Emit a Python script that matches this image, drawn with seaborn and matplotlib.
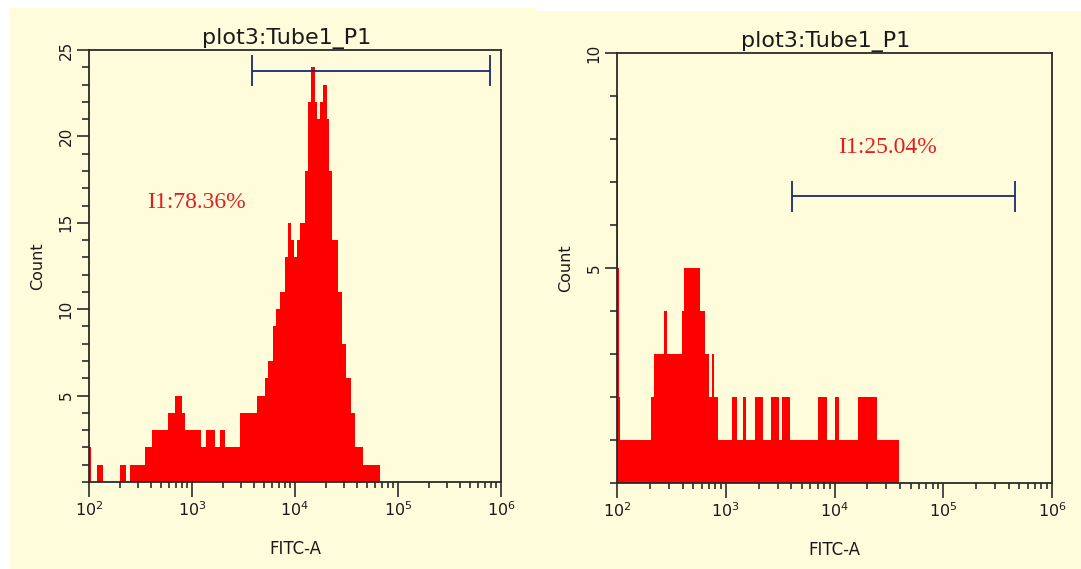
import numpy as np
import pandas as pd
import matplotlib
matplotlib.use("Agg")
import matplotlib.pyplot as plt
import seaborn as sns
from matplotlib.patches import Rectangle
from matplotlib.ticker import FixedLocator, LogLocator, MultipleLocator, NullFormatter, FuncFormatter

# Datos: bordes de bin en log10(FITC-A) y cuentas por bin
edges_left = [2.00, 2.02, 2.08, 2.14, 2.30, 2.36, 2.40, 2.54, 2.61, 2.77, 2.84, 2.90, 2.93,
              3.09, 3.14, 3.22, 3.27, 3.32, 3.47, 3.63, 3.71, 3.74, 3.79, 3.82, 3.85,
              3.90, 3.93, 3.96, 3.99, 4.02, 4.05, 4.10, 4.13, 4.16, 4.19, 4.21, 4.24, 4.27,
              4.31, 4.33, 4.36, 4.42, 4.46, 4.50, 4.54, 4.58, 4.66, 4.83]
counts_left = [2, 0, 1, 0, 1, 0, 1, 2, 3, 4, 5, 4, 3,
               2, 3, 2, 3, 2, 4, 5, 6, 7, 9, 10, 11,
               13, 15, 14, 13, 14, 15, 18, 22, 24, 22, 21, 22, 23,
               21, 18, 14, 11, 8, 6, 4, 2, 1]

edges_right = [2.00, 2.01, 2.02, 2.03, 2.31, 2.34, 2.43, 2.46, 2.60, 2.62, 2.76, 2.81, 2.85,
               2.87, 2.89, 2.93, 3.06, 3.10, 3.16, 3.19, 3.27, 3.34, 3.42, 3.49, 3.52,
               3.59, 3.85, 3.93, 4.00, 4.04, 4.22, 4.39, 4.59]
counts_right = [9, 5, 2, 1, 2, 3, 4, 3, 4, 5, 4, 3,
                2, 3, 2, 1, 2, 1, 2, 1, 2, 1, 2, 1,
                2, 1, 2, 1, 2, 1, 2, 1]

titles = ["plot3:Tube1_P1", "plot3:Tube1_P1"]
gate_labels = ["I1:78.36%", "I1:25.04%"]
# gate: inicio, fin (FITC-A), altura (Count)
gate_left = [3850, 790000, 23.8]
gate_right = [4040, 460000, 6.67]
ymax = [25, 10]
yticks_left = [5, 10, 15, 20, 25]
yticks_right = [5, 10]
xticks = [1e2, 1e3, 1e4, 1e5, 1e6]

cream = "#fffcdc"
navy = "#1c2a72"
ink = "#1a1a1a"

sns.set_style("ticks")
plt.rcParams["font.family"] = ["DejaVu Sans"]

fig = plt.figure(figsize=(10.81, 5.69), dpi=100, facecolor="white")
fig.patches.append(Rectangle((10 / 1081, 0), 525 / 1081, 1 - 8 / 569,
                             transform=fig.transFigure, color=cream, zorder=-10))
fig.patches.append(Rectangle((535 / 1081, 0), 546 / 1081, 1 - 11 / 569,
                             transform=fig.transFigure, color=cream, zorder=-10))

ax1 = fig.add_axes([0.0823, 0.1529, 0.3811, 0.7592])
ax2 = fig.add_axes([0.5708, 0.1511, 0.4024, 0.7558])


def dibujar_panel(ax, edges, counts, top, yticks, gate, title, label, label_xy):
    centers = [(a + b) / 2 for a, b in zip(edges[:-1], edges[1:])]
    df = pd.DataFrame({"fitc": np.power(10.0, centers), "count": counts})
    sns.histplot(data=df, x="fitc", weights="count", bins=edges, log_scale=True,
                 element="step", fill=True, color="#ff0000", alpha=1, linewidth=0, ax=ax)

    ax.set_facecolor(cream)
    ax.set_xlim(1e2, 1e6)
    ax.set_ylim(0, top)

    ax.xaxis.set_major_locator(FixedLocator(xticks))
    ax.xaxis.set_major_formatter(FuncFormatter(lambda v, p: f"$10^{{{int(round(np.log10(v)))}}}$"))
    ax.xaxis.set_minor_locator(LogLocator(base=10, subs=np.arange(2, 10)))
    ax.xaxis.set_minor_formatter(NullFormatter())
    ax.yaxis.set_major_locator(FixedLocator(yticks))
    ax.yaxis.set_minor_locator(MultipleLocator(1))

    ax.tick_params(axis="x", which="major", direction="out", length=11, width=1.1,
                   pad=2, labelsize=11.5, colors=ink)
    ax.tick_params(axis="x", which="minor", direction="out", length=4.5, width=1.1, colors=ink)
    ax.tick_params(axis="y", which="major", direction="out", length=9, width=1.1,
                   pad=2, labelsize=11, labelrotation=90, colors=ink)
    ax.tick_params(axis="y", which="minor", direction="out", length=5, width=1.1, colors=ink)
    for lbl in ax.get_yticklabels():
        lbl.set_va("center")

    for s in ax.spines.values():
        s.set_color("#2a2a2a")
        s.set_linewidth(1.3)

    # gate
    cap = 0.036 * top
    ax.hlines(gate[2], gate[0], gate[1], color=navy, linewidth=1.3)
    ax.vlines([gate[0], gate[1]], gate[2] - cap, gate[2] + cap, color=navy, linewidth=1.3)
    ax.text(label_xy[0], label_xy[1], label, color="#e02020", fontsize=17,
            family=["Liberation Serif"], ha="center", va="center")

    ax.set_title(title, fontsize=16, pad=4, color=ink, x=0.48)
    ax.set_ylabel("Count", fontsize=11.5, labelpad=10, color=ink)
    ax.set_xlabel("FITC-A", fontsize=12, labelpad=15, color=ink)


dibujar_panel(ax1, edges_left, counts_left, ymax[0], yticks_left, gate_left,
              titles[0], gate_labels[0], (1100, 16.2))
dibujar_panel(ax2, edges_right, counts_right, ymax[1], yticks_right, gate_right,
              titles[1], gate_labels[1], (31000, 7.8))

fig.savefig("out.png", dpi=100, facecolor=fig.get_facecolor())
